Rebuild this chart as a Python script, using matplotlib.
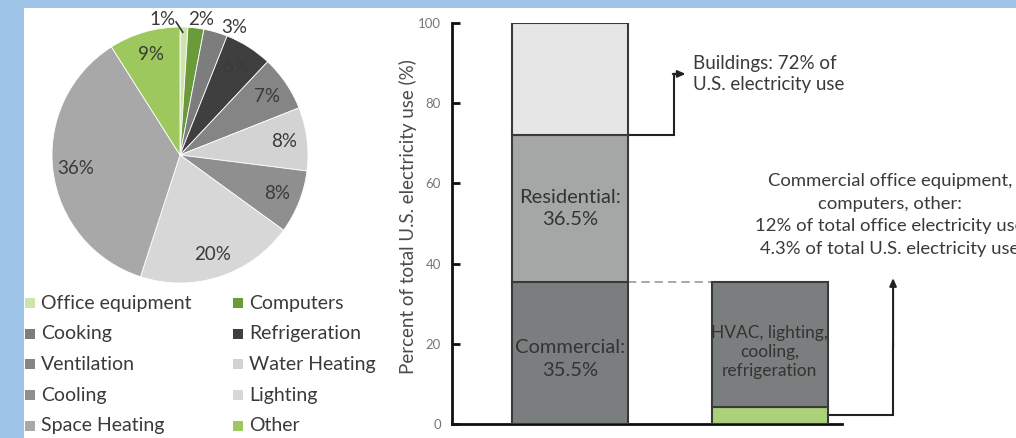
import matplotlib
matplotlib.use("Agg")
import matplotlib.pyplot as plt
from matplotlib.patches import Rectangle
import numpy as np

plt.rcParams["font.family"] = ["Lato", "DejaVu Sans"]

# Office electricity end uses (pie), listed clockwise from 12 o'clock
end_uses = ["Office equipment", "Computers", "Cooking", "Refrigeration",
            "Ventilation", "Water Heating", "Cooling", "Lighting",
            "Space Heating", "Other"]
end_use_pct = [1, 2, 3, 6, 7, 8, 8, 20, 36, 9]
end_use_colors = ["#CDE4AC", "#6A9A3A", "#7D7D7D", "#3F3F3F", "#858585",
                  "#D3D3D3", "#8F8F8F", "#D7D7D7", "#A8A8A8", "#9DC85D"]

# Share of total U.S. electricity use (stacked bars)
sector_names = ["Commercial", "Residential"]
sector_pct = [35.5, 36.5]
office_other_pct = 4.3          # office equipment, computers, other
office_other_of_office = 12     # % of total office electricity use
hvac_label = "HVAC, lighting,\ncooling,\nrefrigeration"
y_ticks = [0, 20, 40, 60, 80, 100]

W, H = 1016, 438
BLUE = "#9DC3E6"
TXT = "#3A3A3A"

fig = plt.figure(figsize=(W / 100, H / 100), dpi=100, facecolor=BLUE)
fig.add_artist(Rectangle((24 / W, 0), 1, (H - 8) / H, transform=fig.transFigure,
                         facecolor="white", edgecolor="none", zorder=-10))

# ---------------- pie ----------------
cx, cy, R, half = 180, 155, 128, 150
axp = fig.add_axes([(cx - half) / W, (H - cy - half) / H, 2 * half / W, 2 * half / H])
axp.pie(end_use_pct, colors=end_use_colors, startangle=90, counterclock=False,
        radius=1, wedgeprops=dict(edgecolor="white", linewidth=0.6))
axp.set_xlim(-half / R, half / R)
axp.set_ylim(-half / R, half / R)
axp.set_aspect("equal")
axp.axis("off")

# nudges (x, y) for the small slices' outside labels
outside_nudge = {0: (-0.175, -0.04), 1: (0.03, -0.03), 2: (0.12, -0.06)}
starts = np.cumsum([0] + end_use_pct[:-1])
for i, (p, s) in enumerate(zip(end_use_pct, starts)):
    ang = np.deg2rad(90 - (s + p / 2) * 3.6)
    txt = f"{p}%"
    if p >= 5:
        r = 0.82
        x, y = r * np.cos(ang), r * np.sin(ang)
    else:
        r = 1.1
        dx, dy = outside_nudge.get(i, (0, 0))
        x, y = r * np.cos(ang) + dx, r * np.sin(ang) + dy
        if i == 0:
            # tiny slice: short leader from the label to the wedge
            axp.plot([x + 0.11, np.cos(ang) - 0.01],
                     [y - 0.02, np.sin(ang) - 0.04],
                     color="#333333", lw=1.2, clip_on=False)
    axp.text(x, y, txt, ha="center", va="center", fontsize=13.5, color=TXT)

# legend (two columns, filled row by row)
row_y0, row_dy = 303, 30.7
col_x = [25, 233]
sq = 10
for i, (name, col) in enumerate(zip(end_uses, end_use_colors)):
    r, c = divmod(i, 2)
    ypix = row_y0 + r * row_dy
    fig.add_artist(Rectangle((col_x[c] / W, (H - ypix - sq / 2) / H), sq / W, sq / H,
                             transform=fig.transFigure, facecolor=col,
                             edgecolor="none"))
    fig.text((col_x[c] + sq + 6) / W, (H - ypix) / H, name, ha="left", va="center",
             fontsize=14, color=TXT)

# ---------------- stacked bars ----------------
axb = fig.add_axes([452 / W, 14 / H, 390 / W, 401 / H])
axb.set_xlim(-0.593, 1.362)
axb.set_ylim(0, 100)
axb.patch.set_alpha(0)
bw = 0.583
edge = "#3A3A3A"

commercial, residential = sector_pct
buildings = commercial + residential
axb.bar(0, commercial, bw, color="#7B7E7E", edgecolor=edge, lw=1.5, zorder=3)
axb.bar(0, residential, bw, bottom=commercial, color="#A5A7A7", edgecolor=edge,
        lw=1.5, zorder=3)
axb.bar(0, 100 - buildings, bw, bottom=buildings, color="#E6E6E6", edgecolor=edge,
        lw=1.5, zorder=3)
axb.bar(1, office_other_pct, bw, color="#ABD27A", edgecolor=edge, lw=1.5, zorder=3)
axb.bar(1, commercial - office_other_pct, bw, bottom=office_other_pct,
        color="#7B7E7E", edgecolor=edge, lw=1.5, zorder=3)

axb.text(0, commercial / 2 - 1.5, f"{sector_names[0]}:\n{commercial}%", ha="center",
         va="center", fontsize=14.5, color="#333333", linespacing=1.4, zorder=4)
axb.text(0, commercial + residential / 2, f"{sector_names[1]}:\n{residential}%",
         ha="center", va="center", fontsize=14.5, color="#333333", linespacing=1.4,
         zorder=4)
axb.text(1, (office_other_pct + commercial) / 2 - 2, hvac_label, ha="center",
         va="center", fontsize=12.5, color="#333333", linespacing=1.25, zorder=4)

# dashed link at the commercial level
axb.plot([bw / 2, 1 - bw / 2], [commercial, commercial], color="#999999",
         lw=1.2, ls=(0, (5, 3)), zorder=2)

# buildings arrow
xv, xt, ya = 0.518, 0.578, 87.3
axb.plot([bw / 2, xv, xv], [buildings, buildings, ya], color="#222222", lw=1.5,
         clip_on=False, zorder=2, solid_joinstyle="miter")
axb.annotate("", xy=(xt, ya), xytext=(xv - 0.004, ya),
             arrowprops=dict(arrowstyle="-|>,head_length=0.45,head_width=0.2",
                             color="#222222", lw=1.5, shrinkA=0, shrinkB=0))
axb.text(0.613, ya, f"Buildings: {buildings:.0f}% of\nU.S. electricity use",
         ha="left", va="center", fontsize=13.5, color=TXT, linespacing=1.3)

# office equipment arrow
xv2, yt2 = 1.618, 36.4
axb.plot([1 + bw / 2, xv2, xv2], [office_other_pct / 2, office_other_pct / 2, 20],
         color="#222222", lw=1.5, clip_on=False, zorder=2, solid_joinstyle="miter")
axb.annotate("", xy=(xv2, yt2), xytext=(xv2, 19),
             arrowprops=dict(arrowstyle="-|>,head_length=0.45,head_width=0.2",
                             color="#222222", lw=1.5, shrinkA=0, shrinkB=0),
             annotation_clip=False)
axb.text(1.603, 52.1,
         "Commercial office equipment,\ncomputers, other:\n"
         f"{office_other_of_office}% of total office electricity use\n"
         f"{office_other_pct}% of total U.S. electricity use",
         ha="center", va="center", fontsize=13.3, color=TXT, linespacing=1.5,
         clip_on=False)

for s in ["top", "right"]:
    axb.spines[s].set_visible(False)
for s in ["left", "bottom"]:
    axb.spines[s].set_linewidth(2)
    axb.spines[s].set_color("#111111")
axb.set_xticks([])
axb.set_yticks(y_ticks)
axb.tick_params(axis="y", direction="in", length=6, width=2, colors="#111111",
                labelcolor="#777777", labelsize=9.5, pad=8)
fig.text(408 / W, (H - 217) / H, "Percent of total U.S. electricity use (%)",
         rotation=90, ha="center", va="center", fontsize=13.5, color="#4A4A4A")

fig.savefig("out.png", dpi=100, facecolor=BLUE)
